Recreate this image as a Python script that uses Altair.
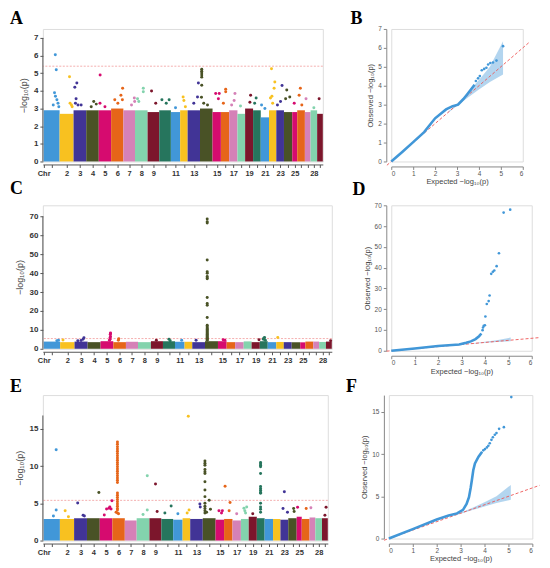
import altair as alt
import pandas as pd

chr_names = [str(i) for i in range(1, 30)]
chr_len = [16.0, 14.0, 12.7, 12.6, 12.4, 12.3, 11.7, 12.6, 11.7, 11.7, 9.3, 7.5, 12.4, 12.6,
           8.4, 8.3, 8.3, 7.7, 8.0, 7.7, 8.3, 7.3, 7.7, 8.3, 5.0, 7.7, 5.7, 6.6, 5.7]
palette = ["#4197d8", "#f8c120", "#413496", "#495226", "#d60b6f",
           "#e66519", "#d581b7", "#83d3ad", "#7c162c", "#26755d"]
labelled_chr = [2, 3, 4, 5, 6, 7, 8, 9, 11, 13, 15, 17, 19, 21, 23, 25, 28]

# top of the dense SNP cloud per chromosome (-log10 p)
base_A = [2.9, 2.7, 2.9, 2.9, 2.9, 3.0, 2.9, 2.9, 2.8, 2.9, 2.8, 2.9, 2.9, 3.0, 2.8,
          2.8, 2.9, 2.7, 3.0, 2.9, 2.5, 2.9, 2.9, 2.8, 2.8, 2.9, 2.8, 2.9, 2.7]
base_C = [3.8, 3.5, 3.8, 3.5, 4.0, 3.5, 3.7, 3.5, 4.0, 4.0, 3.7, 3.7, 3.5, 4.0, 4.0,
          3.5, 3.5, 3.9, 3.5, 4.0, 3.5, 3.6, 3.5, 3.5, 3.4, 3.8, 3.8, 3.6, 3.8]
base_E = [2.9, 2.9, 3.0, 3.0, 3.0, 3.0, 2.7, 3.0, 3.0, 2.9, 2.8, 3.0, 2.9, 3.0, 2.8,
          2.9, 2.7, 2.9, 3.2, 3.0, 2.9, 2.9, 2.8, 3.0, 3.2, 2.9, 3.1, 3.0, 3.0]

# SNPs above the dense cloud: (chromosome, relative position in chromosome, -log10 p)
hits_A = [
    (1, 0.73, 6.05), (1, 0.79, 5.2), (1, 0.68, 3.9), (1, 0.74, 3.7), (1, 0.83, 3.5), (1, 0.9, 3.3), (1, 0.6, 3.2), (1, 0.95, 3.1),
    (2, 0.71, 4.8), (2, 0.75, 3.3), (2, 0.85, 3.2), (2, 0.9, 3.1),
    (3, 0.26, 4.45), (3, 0.1, 4.2), (3, 0.2, 3.55), (3, 0.15, 3.3), (3, 0.35, 3.2), (3, 0.6, 3.2),
    (4, 0.6, 3.4), (4, 0.8, 3.25), (4, 0.4, 3.1),
    (5, 0.11, 4.9), (5, 0.1, 3.3), (5, 0.5, 3.1),
    (6, 0.94, 4.15), (6, 0.8, 3.75), (6, 0.3, 3.5), (6, 0.55, 3.3), (6, 0.92, 3.5),
    (7, 0.94, 3.6), (7, 0.97, 3.4), (7, 0.7, 3.2),
    (8, 0.66, 4.15), (8, 0.66, 3.95), (8, 0.2, 3.55), (8, 0.3, 3.4),
    (9, 0.34, 4.0), (9, 0.7, 3.3),
    (10, 0.23, 3.5), (10, 0.85, 3.5), (10, 0.6, 3.3),
    (11, 0.5, 3.05),
    (12, 0.4, 3.65), (12, 0.5, 3.45), (12, 0.7, 3.1),
    (13, 0.87, 4.45), (13, 0.8, 3.65), (13, 0.5, 3.3),
    (14, 0.14, 5.22), (14, 0.14, 5.12), (14, 0.14, 5.02), (14, 0.14, 4.9), (14, 0.14, 4.78), (14, 0.14, 4.32),
    (14, 0.12, 3.64), (14, 0.3, 3.3), (14, 0.6, 3.2),
    (15, 0.38, 3.85), (15, 0.8, 3.85), (15, 0.7, 3.55),
    (16, 0.58, 4.1), (16, 0.58, 3.95), (16, 0.3, 3.3),
    (17, 0.7, 3.85), (17, 0.6, 3.45), (17, 0.3, 3.2),
    (18, 0.4, 3.15),
    (19, 0.69, 3.75), (19, 0.6, 3.35),
    (20, 0.4, 3.6), (20, 0.2, 3.3),
    (21, 0.1, 3.2), (21, 0.5, 3.0),
    (22, 0.34, 5.25), (22, 0.8, 4.5), (22, 0.7, 4.15), (22, 0.4, 3.7), (22, 0.2, 3.6), (22, 0.5, 3.3),
    (23, 0.75, 4.3), (23, 0.55, 3.4), (23, 0.15, 3.2),
    (24, 0.34, 4.05), (24, 0.2, 3.55), (24, 0.7, 3.65),
    (25, 0.4, 3.3),
    (26, 0.41, 4.15), (26, 0.25, 3.75), (26, 0.6, 3.2),
    (27, 0.2, 3.55),
    (28, 0.5, 3.05),
    (29, 0.35, 3.55),
]
hits_C = [
    (1, 0.8, 4.2), (1, 0.9, 4.5), (2, 0.2, 4.6),
    (3, 0.72, 5.8), (3, 0.65, 5.0), (3, 0.5, 4.4), (3, 0.25, 4.2),
    (5, 0.78, 8.4), (5, 0.78, 8.0), (5, 0.76, 7.5), (5, 0.78, 6.5), (5, 0.75, 6.0), (5, 0.75, 5.0), (5, 0.7, 4.5),
    (6, 0.43, 5.3), (6, 0.4, 4.5), (9, 0.45, 4.5), (10, 0.5, 5.0), (10, 0.6, 4.3), (11, 0.7, 4.5), (13, 0.3, 4.5),
    (14, 0.17, 68.6), (14, 0.17, 67.2), (14, 0.17, 66.5), (14, 0.17, 47.0), (14, 0.17, 40.8), (14, 0.17, 40.0),
    (14, 0.17, 38.2), (14, 0.17, 37.5), (14, 0.17, 37.0), (14, 0.17, 27.1), (14, 0.17, 23.9), (14, 0.17, 23.0),
    (14, 0.17, 16.5), (14, 0.17, 12.5), (14, 0.17, 11.6), (14, 0.17, 11.0), (14, 0.17, 10.5), (14, 0.17, 10.0),
    (14, 0.17, 9.5), (14, 0.17, 9.0), (14, 0.17, 8.5), (14, 0.17, 8.0), (14, 0.17, 7.5), (14, 0.17, 7.0),
    (14, 0.17, 6.5), (14, 0.17, 6.0), (14, 0.17, 5.5), (14, 0.17, 5.0), (14, 0.17, 4.5),
    (15, 0.6, 4.8), (15, 0.8, 4.5), (19, 0.9, 4.8),
    (20, 0.6, 6.0), (20, 0.5, 5.5), (20, 0.45, 5.0), (20, 0.7, 4.5),
    (22, 0.2, 6.0), (29, 0.8, 4.3),
]
hits_E = [
    (1, 0.77, 12.2), (1, 0.77, 4.1), (1, 0.6, 3.3),
    (2, 0.37, 4.0), (2, 0.6, 3.2),
    (3, 0.28, 5.05), (3, 0.7, 3.4), (3, 0.8, 3.3),
    (4, 0.93, 6.45),
    (5, 0.97, 5.35), (5, 0.73, 4.33), (5, 0.54, 4.25), (5, 0.9, 4.25), (5, 0.8, 4.5), (5, 0.36, 3.44),
    (6, 0.41, 13.25), (6, 0.41, 12.95), (6, 0.41, 12.6), (6, 0.41, 12.3), (6, 0.41, 12.0), (6, 0.41, 11.7),
    (6, 0.41, 11.4), (6, 0.41, 11.1), (6, 0.41, 10.8), (6, 0.41, 10.5), (6, 0.41, 10.2), (6, 0.41, 9.9),
    (6, 0.41, 9.6), (6, 0.41, 9.3), (6, 0.41, 9.0), (6, 0.41, 8.7), (6, 0.41, 8.4), (6, 0.41, 8.1),
    (6, 0.41, 7.8), (6, 0.41, 6.4), (6, 0.41, 6.1), (6, 0.41, 5.8), (6, 0.41, 5.5), (6, 0.41, 5.2),
    (6, 0.41, 4.9), (6, 0.41, 4.6), (6, 0.41, 4.3), (6, 0.41, 4.1), (6, 0.41, 3.7), (6, 0.5, 3.6), (6, 0.3, 3.8),
    (8, 0.83, 8.7), (8, 0.83, 4.1), (8, 0.5, 3.5),
    (9, 0.51, 7.6), (9, 0.65, 3.9),
    (10, 0.83, 4.65), (10, 0.3, 3.7),
    (11, 0.5, 3.6),
    (12, 0.75, 16.7), (12, 0.85, 4.1), (12, 0.6, 3.7),
    (13, 0.77, 4.9), (13, 0.8, 4.5),
    (14, 0.17, 10.7), (14, 0.17, 10.4), (14, 0.17, 10.1), (14, 0.17, 9.55), (14, 0.17, 9.25), (14, 0.17, 9.0),
    (14, 0.17, 7.9), (14, 0.17, 6.8), (14, 0.17, 5.9), (14, 0.17, 5.0), (14, 0.17, 4.6), (14, 0.17, 4.3),
    (14, 0.17, 4.0), (14, 0.17, 3.7), (14, 0.5, 5.4), (14, 0.6, 4.2), (14, 0.3, 3.8),
    (15, 0.4, 4.0), (15, 0.8, 4.0), (15, 0.7, 3.7),
    (16, 0.12, 7.3), (16, 0.71, 5.1), (16, 0.6, 4.0),
    (17, 0.5, 3.6),
    (18, 0.39, 4.33), (18, 0.74, 4.5), (18, 0.5, 4.0), (18, 0.6, 3.7),
    (19, 0.5, 3.6),
    (20, 0.48, 10.5), (20, 0.48, 10.3), (20, 0.48, 10.1), (20, 0.48, 9.9), (20, 0.48, 9.0), (20, 0.48, 7.25),
    (20, 0.48, 7.0), (20, 0.48, 6.75), (20, 0.48, 6.5), (20, 0.48, 6.35), (20, 0.48, 5.0), (20, 0.48, 4.5),
    (20, 0.48, 4.2), (20, 0.48, 3.8),
    (23, 0.5, 6.56), (23, 0.33, 4.3), (23, 0.9, 3.8),
    (24, 0.64, 4.3), (24, 0.7, 3.9),
    (25, 0.18, 4.47),
    (26, 0.57, 4.3),
    (27, 0.23, 4.4),
    (29, 0.7, 4.47), (29, 0.5, 3.4),
]
threshold = 5.4

# ---------------- QQ plots: (expected, observed) ----------------
B_line_e = [0, 0.5, 1.0, 1.5, 2.0, 2.5, 2.8, 3.05, 3.3, 3.6, 3.8]
B_line_o = [0, 0.5, 1.02, 1.55, 2.28, 2.75, 2.92, 3.0, 3.3, 3.75, 4.05]
B_pt_e = [3.86, 3.96, 4.04, 4.13, 4.24, 4.34, 4.42, 4.52, 4.64, 4.8, 5.1]
B_pt_o = [4.25, 4.39, 4.51, 4.82, 4.89, 4.95, 5.12, 5.2, 5.23, 5.33, 6.09]

D_line_e = [0, 1.0, 2.0, 2.9, 3.2, 3.4, 3.6, 3.75, 3.85]
D_line_o = [0, 1.1, 2.3, 3.0, 3.8, 4.5, 5.6, 7.0, 8.3]
D_pt_e = [3.9, 3.92, 3.95, 4.0, 4.02, 4.08, 4.16, 4.2, 4.27, 4.34, 4.4, 4.5, 4.6, 4.8, 5.08]
D_pt_o = [9.9, 11.2, 12.0, 12.3, 16.5, 22.5, 23.9, 26.6, 37.0, 38.0, 38.6, 40.7, 46.9, 66.5, 67.9]

F_line_e = [0, 1.0, 2.0, 2.5, 2.85, 3.1, 3.25, 3.35, 3.42, 3.47, 3.53, 3.6, 3.75, 3.9]
F_line_o = [0, 1.12, 2.25, 2.72, 2.98, 3.4, 4.1, 4.9, 6.0, 6.9, 8.1, 8.9, 9.7, 10.3]
F_pt_e = [3.95, 4.02, 4.1, 4.16, 4.22, 4.29, 4.35, 4.43, 4.5, 4.61, 4.81, 5.12]
F_pt_o = [10.45, 10.6, 10.8, 11.0, 11.3, 11.7, 12.0, 12.3, 12.5, 13.0, 13.2, 16.76]

band_e = [2.6, 3.0, 3.5, 4.0, 4.5, 5.1]
band_lo = [2.58, 2.94, 3.38, 3.8, 4.2, 4.6]
band_hi = [2.62, 3.06, 3.65, 4.3, 5.0, 6.35]
diag_ends = [-0.2, 6.3]

FONT = "Liberation Sans"
X_PAD = -0.8
starts = [sum(chr_len[:i]) for i in range(len(chr_len))]
total = sum(chr_len)
chr_colors = [palette[i % 10] for i in range(len(chr_names))]
tick_vals = [0.0] + [round(s + l / 2, 3) for s, l in zip(starts, chr_len)]
tick_text = ["Chr"] + [n if int(n) in labelled_chr else "" for n in chr_names]
label_expr = "[" + ",".join("'%s'" % t for t in tick_text) + "][indexof([" + \
    ",".join(repr(v) for v in tick_vals) + "], datum.value)]"
YTITLE = "\u2212log\u2081\u2080(p)"


def letter(text, dx, offset):
    return alt.TitleParams(text, anchor="start", frame="group", dx=dx, offset=offset,
                           font="Liberation Serif", fontSize=18, fontWeight="bold",
                           color="#000000")


def manhattan(base, hits, ymax, yaxis_top, yticks, w, h, title):
    bars = pd.DataFrame({"chr": chr_names, "start": starts,
                         "end": [s + l for s, l in zip(starts, chr_len)],
                         "base": base, "zero": [0] * len(base)})
    pts = pd.DataFrame({"chr": [chr_names[c - 1] for c, r, v in hits],
                        "start": [starts[c - 1] + r * chr_len[c - 1] for c, r, v in hits],
                        "base": [v for c, r, v in hits]})
    xsc = alt.Scale(domain=[X_PAD, total], nice=False, zero=False)
    ysc = alt.Scale(domain=[0, ymax], nice=False)
    col = alt.Color("chr:N", scale=alt.Scale(domain=chr_names, range=chr_colors), legend=None)
    xaxis = alt.Axis(values=tick_vals, labelExpr=label_expr, title=None, grid=False, offset=3,
                     labelFontWeight="bold", labelFontSize=7.5, labelColor="#333333",
                     labelOverlap=False, labelFlush=False, tickSize=3, domainColor="#555555",
                     tickColor="#555555", labelPadding=2)
    yaxis = alt.Axis(values=yticks, title=YTITLE, grid=False, offset=0, domain=False,
                     labelFontWeight="bold", labelFontSize=8, labelColor="#333333", tickSize=3,
                     tickColor="#555555", titleFontSize=9, titleFontWeight="normal",
                     titleColor="#444444", titlePadding=5, labelPadding=2)
    rect = alt.Chart(bars).mark_rect().encode(
        x=alt.X("start:Q", scale=xsc, axis=xaxis), x2="end:Q",
        y=alt.Y("base:Q", scale=ysc, axis=yaxis), y2="zero:Q", color=col)
    dots = alt.Chart(pts).mark_circle(size=9, opacity=1).encode(
        x=alt.X("start:Q", scale=xsc, axis=xaxis),
        y=alt.Y("base:Q", scale=ysc, axis=yaxis), color=col)
    thr = alt.Chart(pd.DataFrame({"base": [threshold]})).mark_rule(
        color="#f19a9a", strokeDash=[2, 1.5], strokeWidth=0.8).encode(
        y=alt.Y("base:Q", scale=ysc, axis=yaxis))
    yline = alt.Chart(pd.DataFrame({"start": [X_PAD], "base": [0], "top": [yaxis_top]})).mark_rule(
        color="#555555", strokeWidth=1).encode(
        x=alt.X("start:Q", scale=xsc, axis=xaxis),
        y=alt.Y("base:Q", scale=ysc, axis=yaxis), y2="top:Q")
    return alt.layer(rect, thr, dots, yline).properties(width=w, height=h, title=title)


def qq(le, lo, pe, po, ymax, yticks, w, h, title):
    xsc = alt.Scale(domain=[0, 6], nice=False)
    ysc = alt.Scale(domain=[0, ymax], nice=False)
    xaxis = alt.Axis(values=[0, 1, 2, 3, 4, 5, 6], title="Expected  \u2212log\u2081\u2080(p)", grid=False,
                     offset=5, labelFontSize=6.5, labelColor="#555555", titleFontSize=7.5,
                     titleFontWeight="normal", titleColor="#444444", tickSize=3,
                     domainColor="#888888", tickColor="#888888", titlePadding=1, labelPadding=1)
    yaxis = alt.Axis(values=yticks, title="Observed  \u2212log\u2081\u2080(p)", grid=False, offset=5,
                     labelFontSize=6.5, labelColor="#555555", titleFontSize=7.5,
                     titleFontWeight="normal", titleColor="#444444", tickSize=3,
                     domainColor="#888888", tickColor="#888888", titlePadding=3, labelPadding=2)
    band = alt.Chart(pd.DataFrame({"e": band_e, "o": band_lo, "o2": band_hi})).mark_area(
        color="#4197d8", opacity=0.4).encode(
        x=alt.X("e:Q", scale=xsc, axis=xaxis), y=alt.Y("o:Q", scale=ysc, axis=yaxis), y2="o2:Q")
    diag = alt.Chart(pd.DataFrame({"e": diag_ends, "o": diag_ends})).mark_line(
        color="#ee5555", strokeDash=[3, 2], strokeWidth=0.9).encode(
        x=alt.X("e:Q", scale=xsc, axis=xaxis), y=alt.Y("o:Q", scale=ysc, axis=yaxis))
    line = alt.Chart(pd.DataFrame({"e": le, "o": lo})).mark_line(
        color="#4197d8", strokeWidth=2.6).encode(
        x=alt.X("e:Q", scale=xsc, axis=xaxis), y=alt.Y("o:Q", scale=ysc, axis=yaxis))
    dots = alt.Chart(pd.DataFrame({"e": pe, "o": po})).mark_circle(
        color="#4197d8", size=7, opacity=1).encode(
        x=alt.X("e:Q", scale=xsc, axis=xaxis), y=alt.Y("o:Q", scale=ysc, axis=yaxis))
    return alt.layer(band, diag, line, dots).properties(width=w, height=h, title=title)


A = manhattan(base_A, hits_A, 7.51, 7, [0, 1, 2, 3, 4, 5, 6, 7], 281, 133, letter("A", -33, 1))
B = qq(B_line_e, B_line_o, B_pt_e, B_pt_o, 7, [0, 1, 2, 3, 4, 5, 6, 7], 132, 133, letter("B", -41, -2.5))
C = manhattan(base_C, hits_C, 75.9, 70, [0, 10, 20, 30, 40, 50, 60, 70], 290, 144, letter("C", -33, 7))
D = qq(D_line_e, D_line_o, D_pt_e, D_pt_o, 70, [0, 10, 20, 30, 40, 50, 60, 70], 141, 146, letter("D", -39, 3.5))
E = manhattan(base_E, hits_E, 19.54, 16.8, [0, 5, 10, 15], 286, 146, letter("E", -33, -1))
F = qq(F_line_e, F_line_o, F_pt_e, F_pt_o, 17, [0, 5, 10, 15], 144, 144, letter("F", -43, -1))

top_rows = alt.vconcat(
    alt.hconcat(A, B, spacing=25.7),
    alt.hconcat(C, D, spacing=18.7),
    spacing=-7,
)
chart = alt.vconcat(
    top_rows,
    alt.hconcat(E, F, spacing=16.3),
    spacing=1.5,
).properties(
    padding={"left": 1, "top": 0, "right": 0, "bottom": 0}
).configure_view(stroke=None).configure(font=FONT)

chart.save("out.html", embed_options={"renderer": "svg", "actions": False})
